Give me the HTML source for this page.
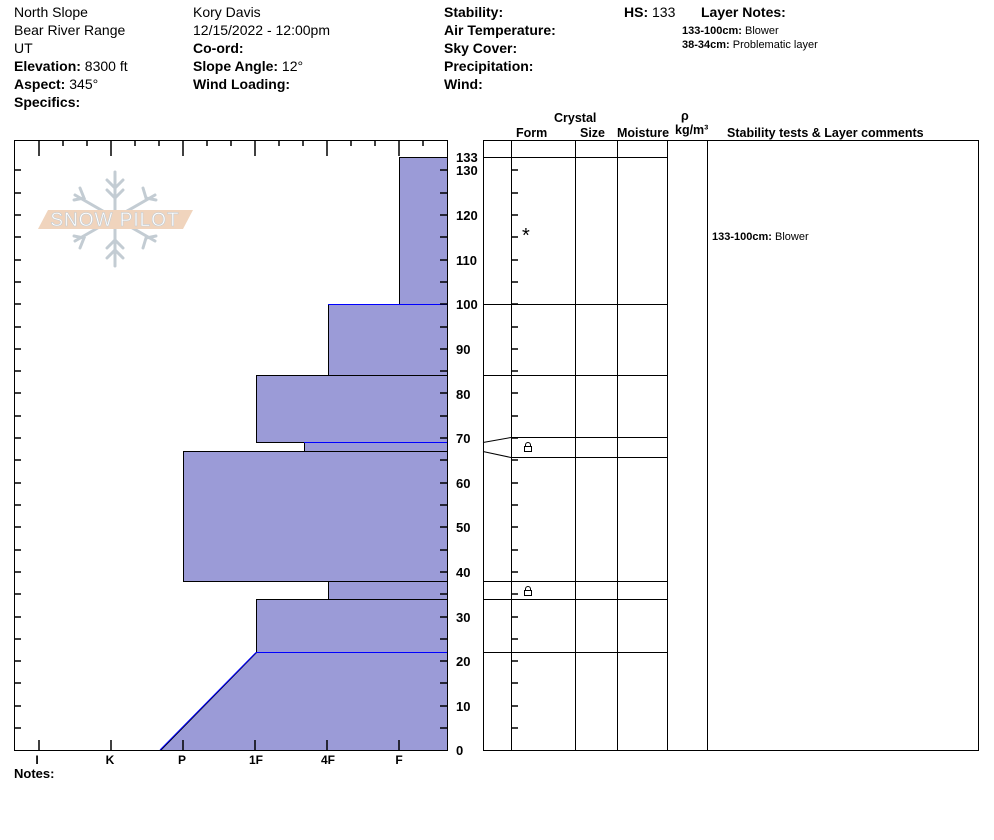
<!DOCTYPE html>
<html><head><meta charset="utf-8"><style>
body{margin:0;background:#fff;}
svg{display:block;font-family:"Liberation Sans",Arial,sans-serif;}
.b{font-weight:bold}
</style></head><body>
<svg width="994" height="840" viewBox="0 0 994 840">
<g font-size="14">
<text x="14" y="17">North Slope</text>
<text x="14" y="35">Bear River Range</text>
<text x="14" y="53">UT</text>
<text x="14" y="71"><tspan class="b">Elevation:</tspan> 8300 ft</text>
<text x="14" y="89"><tspan class="b">Aspect:</tspan> 345°</text>
<text x="14" y="107" class="b">Specifics:</text>
<text x="193" y="17">Kory Davis</text>
<text x="193" y="35">12/15/2022 - 12:00pm</text>
<text x="193" y="53" class="b">Co-ord:</text>
<text x="193" y="71"><tspan class="b">Slope Angle:</tspan> 12°</text>
<text x="193" y="89" class="b">Wind Loading:</text>
<text x="444" y="17" class="b">Stability:</text>
<text x="444" y="35" class="b">Air Temperature:</text>
<text x="444" y="53" class="b">Sky Cover:</text>
<text x="444" y="71" class="b">Precipitation:</text>
<text x="444" y="89" class="b">Wind:</text>
<text x="624" y="17"><tspan class="b">HS:</tspan> 133</text>
<text x="701" y="17" class="b">Layer Notes:</text>
</g>
<g font-size="11">
<text x="682" y="34"><tspan class="b">133-100cm:</tspan> Blower</text>
<text x="682" y="48"><tspan class="b">38-34cm:</tspan> Problematic layer</text>
</g>
<g font-size="12.5" class="b">
<text x="554" y="122">Crystal</text>
<text x="516" y="137">Form</text>
<text x="580" y="137">Size</text>
<text x="617" y="137">Moisture</text>
<text x="681" y="120">ρ</text>
<text x="675" y="134">kg/m³</text>
<text x="727" y="137">Stability tests &amp; Layer comments</text>
</g>
<!-- logo -->
<g stroke="#c3ccd3" stroke-width="3" fill="none" stroke-linecap="round">
<line x1="115" y1="172" x2="115" y2="266"/>
<line x1="75" y1="195" x2="155" y2="241"/>
<line x1="75" y1="241" x2="155" y2="195"/>
<path d="M107 180 L115 188 L123 180 M107 190 L115 198 L123 190 M107 258 L115 250 L123 258 M107 248 L115 240 L123 248"/>
<path d="M80 188 L84 198 L74 200 M143 188 L146 198 L156 200 M80 248 L84 238 L74 236 M143 248 L146 238 L156 236"/>
</g>
<polygon points="48,210 193,210 183,229 38,229" fill="#f0d4bd"/>
<text x="115" y="226" font-size="19" fill="#fff" text-anchor="middle" stroke="#c3ccd3" stroke-width="0.6" letter-spacing="1">SNOW PILOT</text>
<!-- hardness bars -->
<g fill="#9b9bd7" stroke="#000" stroke-width="1">
<rect x="399.5" y="157.5" width="48" height="147"/>
<rect x="328.5" y="304.5" width="119" height="71"/>
<rect x="256.5" y="375.5" width="191" height="67"/>
<rect x="304.5" y="442.5" width="143" height="9"/>
<rect x="183.5" y="451.5" width="264" height="130"/>
<rect x="328.5" y="581.5" width="119" height="18"/>
<rect x="256.5" y="599.5" width="191" height="53"/>
<polygon points="256.5,652.5 447.5,652.5 447.5,750.5 160.5,750.5"/>
</g>
<g stroke="#0000ff" stroke-width="1">
<line x1="328" y1="304.5" x2="447" y2="304.5"/>
<line x1="256" y1="652.5" x2="447" y2="652.5"/>
<line x1="160" y1="750" x2="256" y2="652.5"/>
<line x1="304" y1="442.5" x2="447" y2="442.5"/>
</g>
<!-- chart frame -->
<rect x="14.5" y="140.5" width="433" height="610" fill="none" stroke="#000"/>
<g stroke="#000" stroke-width="1.5">
<line x1="39" y1="140" x2="39" y2="156"/><line x1="111" y1="140" x2="111" y2="156"/><line x1="183" y1="140" x2="183" y2="156"/><line x1="255" y1="140" x2="255" y2="156"/><line x1="327" y1="140" x2="327" y2="156"/><line x1="399" y1="140" x2="399" y2="156"/>
<line x1="63" y1="140" x2="63" y2="146"/><line x1="87" y1="140" x2="87" y2="146"/><line x1="135" y1="140" x2="135" y2="146"/><line x1="159" y1="140" x2="159" y2="146"/><line x1="207" y1="140" x2="207" y2="146"/><line x1="231" y1="140" x2="231" y2="146"/><line x1="279" y1="140" x2="279" y2="146"/><line x1="303" y1="140" x2="303" y2="146"/><line x1="351" y1="140" x2="351" y2="146"/><line x1="375" y1="140" x2="375" y2="146"/><line x1="423" y1="140" x2="423" y2="146"/>
<line x1="39" y1="750" x2="39" y2="740"/><line x1="111" y1="750" x2="111" y2="740"/><line x1="183" y1="750" x2="183" y2="740"/><line x1="255" y1="750" x2="255" y2="740"/><line x1="327" y1="750" x2="327" y2="740"/><line x1="399" y1="750" x2="399" y2="740"/>
</g>
<g stroke="#000" stroke-width="1.5">
<path d="M14 728h7M14 706h7M14 683h7M14 661h7M14 639h7M14 617h7M14 594h7M14 572h7M14 550h7M14 527h7M14 505h7M14 483h7M14 460h7M14 438h7M14 416h7M14 393h7M14 371h7M14 349h7M14 327h7M14 304h7M14 282h7M14 260h7M14 237h7M14 215h7M14 193h7M14 170h7"/>
<path d="M440 728h7M440 706h7M440 683h7M440 661h7M440 639h7M440 617h7M440 594h7M440 572h7M440 550h7M440 527h7M440 505h7M440 483h7M440 460h7M440 438h7M440 416h7M440 393h7M440 371h7M440 349h7M440 327h7M440 304h7M440 282h7M440 260h7M440 237h7M440 215h7M440 193h7M440 170h7"/>
<path d="M511 728h7M511 706h7M511 683h7M511 661h7M511 639h7M511 617h7M511 594h7M511 572h7M511 550h7M511 527h7M511 505h7M511 483h7M511 460h7M511 438h7M511 416h7M511 393h7M511 371h7M511 349h7M511 327h7M511 304h7M511 282h7M511 260h7M511 237h7M511 215h7M511 193h7M511 170h7"/>
</g>
<g font-size="13" class="b">
<text x="456" y="162">133</text>
<text x="456" y="175">130</text>
<text x="456" y="220">120</text>
<text x="456" y="265">110</text>
<text x="456" y="309">100</text>
<text x="456" y="354">90</text>
<text x="456" y="399">80</text>
<text x="456" y="443">70</text>
<text x="456" y="488">60</text>
<text x="456" y="532">50</text>
<text x="456" y="577">40</text>
<text x="456" y="622">30</text>
<text x="456" y="666">20</text>
<text x="456" y="711">10</text>
<text x="456" y="755">0</text>
<text x="37" y="764" text-anchor="middle" font-size="12">I</text>
<text x="110" y="764" text-anchor="middle" font-size="12">K</text>
<text x="182" y="764" text-anchor="middle" font-size="12">P</text>
<text x="256" y="764" text-anchor="middle" font-size="12">1F</text>
<text x="328" y="764" text-anchor="middle" font-size="12">4F</text>
<text x="399" y="764" text-anchor="middle" font-size="12">F</text>
<text x="14" y="778">Notes:</text>
</g>
<!-- table -->
<rect x="483.5" y="140.5" width="495" height="610" fill="none" stroke="#000"/>
<g stroke="#000" stroke-width="1">
<line x1="511.5" y1="140" x2="511.5" y2="750"/>
<line x1="575.5" y1="140" x2="575.5" y2="750"/>
<line x1="617.5" y1="140" x2="617.5" y2="750"/>
<line x1="667.5" y1="140" x2="667.5" y2="750"/>
<line x1="707.5" y1="140" x2="707.5" y2="750"/>
<line x1="483" y1="157.5" x2="667" y2="157.5"/>
<line x1="483" y1="304.5" x2="667" y2="304.5"/>
<line x1="483" y1="375.5" x2="667" y2="375.5"/>
<line x1="511" y1="437.5" x2="667" y2="437.5"/>
<line x1="511" y1="457.5" x2="667" y2="457.5"/>
<line x1="483" y1="581.5" x2="667" y2="581.5"/>
<line x1="483" y1="599.5" x2="667" y2="599.5"/>
<line x1="483" y1="652.5" x2="667" y2="652.5"/>
<line x1="483" y1="442.5" x2="511" y2="437.5"/>
<line x1="483" y1="451.5" x2="511" y2="457.5"/>
</g>
<text x="522" y="242" font-size="20">*</text>
<g fill="none" stroke="#000" stroke-width="1">
<rect x="524.5" y="446.5" width="7" height="5"/><path d="M525.5 446.5v-1.5a2.5 2.5 0 0 1 5 0v1.5"/>
<rect x="524.5" y="590.5" width="7" height="5"/><path d="M525.5 590.5v-1.5a2.5 2.5 0 0 1 5 0v1.5"/>
</g>
<text x="712" y="240" font-size="11"><tspan class="b">133-100cm:</tspan> Blower</text>
</svg>
</body></html>
